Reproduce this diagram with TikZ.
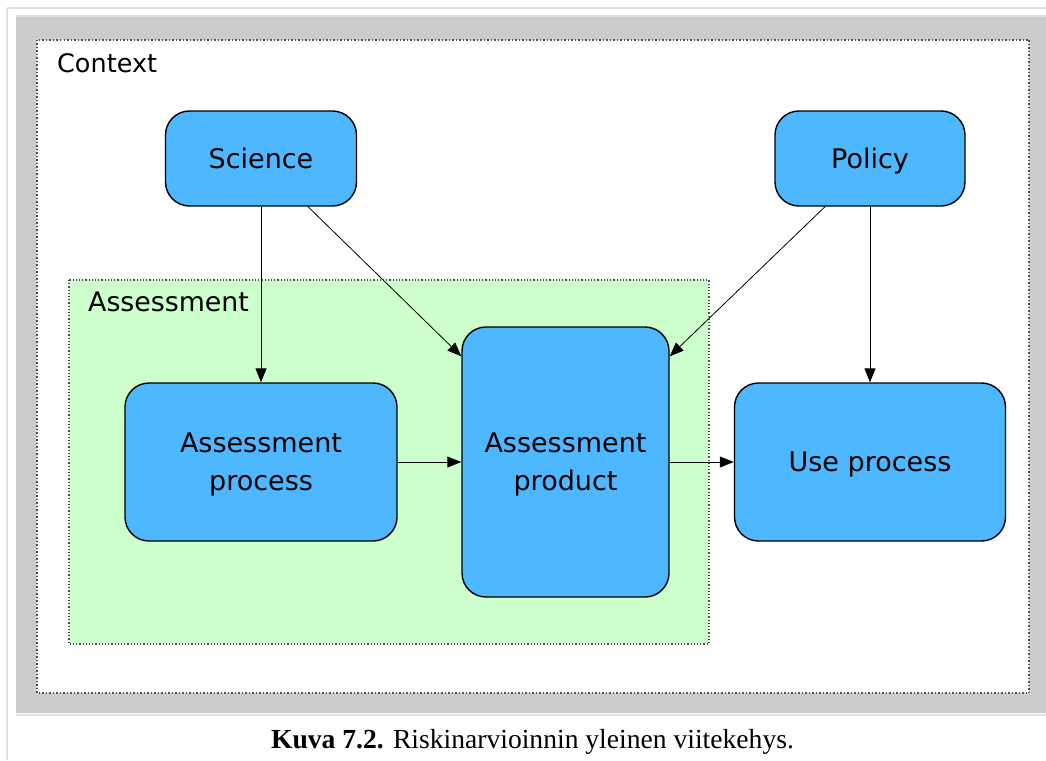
\documentclass[tikz,border=0pt]{standalone}
\usepackage{fontspec}
\setmainfont{Liberation Serif}
\newfontfamily\diafont{DejaVu Sans}
\usetikzlibrary{arrows.meta,calc}
\definecolor{boxblue}{RGB}{77,184,255}
\definecolor{assgreen}{RGB}{204,255,204}
\definecolor{framegray}{RGB}{204,204,204}
\definecolor{linegray}{RGB}{225,225,225}
\definecolor{dotgray}{RGB}{80,80,80}
\newcommand{\nodepth}[1]{\raisebox{0pt}[\height][0pt]{#1}}
\begin{document}
\begin{tikzpicture}[x=1pt,y=-1pt,
  procbox/.style={draw=black,line width=1.4pt,fill=boxblue,rounded corners=24pt,
    font=\diafont\fontsize{27}{38}\selectfont,align=center,inner sep=0pt},
  conn/.style={line width=1pt,-{Triangle[length=14pt,width=11pt]}},
  thinconn/.style={line width=0.8pt,-{Triangle[length=14pt,width=11pt]}},
  framelabel/.style={font=\diafont\fontsize{25.5}{30}\selectfont,anchor=base west,inner sep=0pt}]
\useasboundingbox (0,0) rectangle (1046,760);
\fill[white] (0,0) rectangle (1046,760);
% outer page lines
\draw[linegray,line width=1.2pt] (7,8) -- (1046,8);
\draw[linegray,line width=1.2pt] (7,8) -- (7,760);
\fill[framegray] (16,17) rectangle (1046,713);
\draw[linegray,line width=1.5pt] (16,715) -- (1046,715);
\draw[linegray,line width=1.5pt] (16,16) -- (1046,16);
% context box
\draw[dotgray,fill=white,dotted,line width=1.5pt] (37,40) rectangle (1029,693);
\node[framelabel] (ctx) at (57,72) {Context};
% assessment box
\draw[dotgray,fill=assgreen,dotted,line width=1.2pt] (69,280) rectangle (709,644);
\node[framelabel,font=\diafont\fontsize{26.8}{30}\selectfont] (asslbl) at (88,311) {Assessment};
% nodes
\node[procbox,minimum width=191pt,minimum height=95pt] (sci) at (261,158.5) {Science};
\node[procbox,minimum width=190pt,minimum height=95pt] (pol) at (870,158.5) {\nodepth{Policy}};
\node[procbox,minimum width=272pt,minimum height=158pt] (ap) at (261,462) {Assessment\\\nodepth{process}};
\node[procbox,minimum width=207pt,minimum height=270pt] (prod) at (565.5,462) {Assessment\\\nodepth{product}};
\node[procbox,minimum width=271pt,minimum height=158pt] (use) at (870,462) {\nodepth{Use process}};
% connectors
\draw[conn] (sci.south) -- (ap.north);
\draw[conn] (pol.south) -- (use.north);
\draw[thinconn] ($(sci.south)+(47,0)$) -- ($(prod.north west)+(0,30)$);
\draw[thinconn] ($(pol.south)+(-45,0)$) -- ($(prod.north east)+(0,30)$);
\draw[conn] (ap.east) -- (prod.west);
\draw[conn] (prod.east) -- (use.west);
% caption
\node[anchor=base,inner sep=0pt,font=\fontsize{27.6}{30}\selectfont] (cap) at (532.5,748) {\textbf{Kuva 7.2.} Riskinarvioinnin yleinen viitekehys.};
\end{tikzpicture}
\end{document}
